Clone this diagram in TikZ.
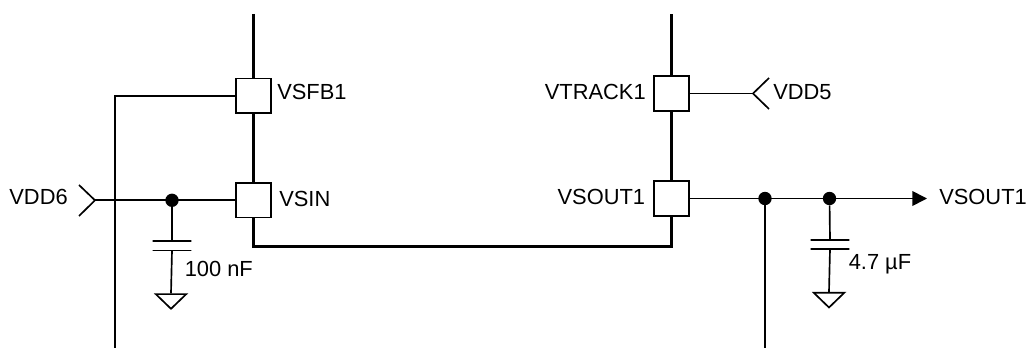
\documentclass[tikz,border=0pt]{standalone}
\usepackage{fontspec}
\setmainfont{Liberation Sans}
\usetikzlibrary{arrows.meta,positioning,shapes.geometric}

\tikzset{
  wire/.style={line width=1.25pt},
  bus/.style={line width=2.6pt},
  pinbox/.style={draw,line width=1.25pt,fill=white,minimum size=26pt,inner sep=0pt},
  sig/.style={inner sep=0pt,font=\fontsize{16.4}{18}\selectfont},
  dot/.style={circle,fill=black,minimum size=10pt,inner sep=0pt},
  plate/.style={draw,line width=1.25pt,minimum width=29pt,minimum height=0pt,inner sep=0pt},
  gnd/.style={draw,line width=1.25pt,isosceles triangle,isosceles triangle apex angle=92,
    shape border rotate=270,minimum height=11pt,inner sep=0pt}
}

\begin{document}
\begin{tikzpicture}[x=.75pt,y=-.75pt,>={Triangle[length=11pt,width=11pt]}]
    \useasboundingbox (0,0) rectangle (1027,348);

    \coordinate (top1)  at (253.5,14);
    \coordinate (top2)  at (671.5,14);
    \coordinate (low1)  at (253.5,246.7);
    \coordinate (low2)  at (671.5,246.7);

    % the two rails go under the pin boxes
    \draw[bus,line join=miter] (top1) -- (low1) -- (low2) -- (top2);

    \node[pinbox] (vsfb)   at (253.5,96)  {};
    \node[pinbox] (vsin)   at (253.5,200.3) {};
    \node[pinbox] (vtrack) at (671.5,93.5) {};
    \node[pinbox] (vsout)  at (671.5,198.5) {};

    \node[sig,right=4pt of vsfb,yshift=2.8pt]  (vsfblbl)   {VSFB1};
    \node[sig,right=5.5pt of vsin,yshift=1pt]  (vsinlbl)   {VSIN};
    \node[sig,left=5.5pt of vtrack,yshift=1pt] (vtracklbl) {VTRACK1};
    \node[sig,left=6pt of vsout,yshift=1.2pt]  (vsoutlbl)  {VSOUT1};

    % left side
    \coordinate (vdd6tip) at (95,200.3);
    \node[sig,anchor=east] (vdd6lbl) at (68,196.7) {VDD6};
    \node[dot] (d1) at (172,200.3) {};
    \node[plate] (c1a) at (172,241) {};
    \node[plate] (c1b) at (172,250.5) {};
    \node[gnd,anchor=lower side] (g1) at (171,293.3) {};
    \node[sig,anchor=base west] (c1lbl) at (184.5,276.7) {100 nF};
    \coordinate (fbend) at (115,96);
    \coordinate (fbout) at (115,348);

    \draw[wire] (vdd6tip) -- (vsin);
    \draw[wire] (79,185) -- (vdd6tip) -- (79,216);
    \draw[wire] (vsfb) -- (fbend) -- (fbout);
    \draw[wire] (d1) -- (c1a.center);
    \draw[wire] (c1b.center) -- (g1.lower side);

    % right side
    \coordinate (vdd5tip) at (753,93.5);
    \node[sig,anchor=west] (vdd5lbl) at (773,92.5) {VDD5};
    \node[dot] (d2) at (765,198.5) {};
    \node[dot] (d3) at (829.5,198.5) {};
    \node[plate] (c2a) at (830,240) {};
    \node[plate] (c2b) at (830,249) {};
    \node[gnd,anchor=lower side] (g2) at (829,292) {};
    \node[sig,anchor=base west] (c2lbl) at (848.5,270) {4.7 µF};
    \coordinate (out) at (927,198.5);
    \node[sig,anchor=west] (outlbl) at (939,197) {VSOUT1};
    \coordinate (sense) at (765,348);

    \draw[wire] (vtrack) -- (vdd5tip);
    \draw[wire] (769,78) -- (vdd5tip) -- (769,109);
    \draw[wire,->] (vsout) -- (out);
    \draw[wire] (d2) -- (sense);
    \draw[wire] (d3) -- (c2a.center);
    \draw[wire] (c2b.center) -- (g2.lower side);
\end{tikzpicture}
\end{document}
